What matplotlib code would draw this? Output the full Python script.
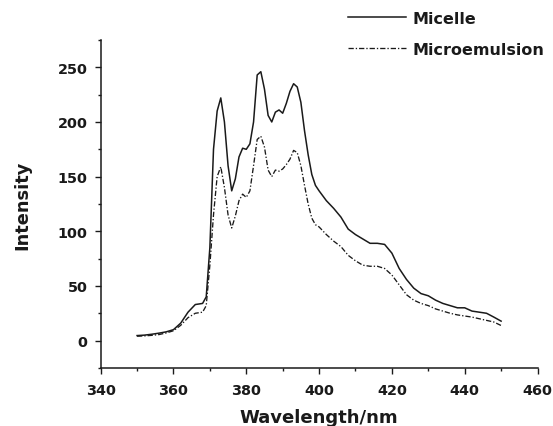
import matplotlib.pyplot as plt
from matplotlib.ticker import MultipleLocator

plt.rcParams['font.family'] = ['DejaVu Sans']
plt.rcParams['font.weight'] = 'bold'

wavelength = [350, 352, 354, 356, 358, 360, 362, 364, 366, 368, 369, 370, 371, 372, 373, 374,
              375, 376, 377, 378, 379, 380, 381, 382, 383, 384, 385, 386, 387, 388, 389, 390,
              391, 392, 393, 394, 395, 396, 397, 398, 399, 400, 402, 404, 406, 408, 410, 412,
              414, 416, 418, 420, 422, 424, 426, 428, 430, 432, 434, 436, 438, 440, 442, 444,
              446, 448, 450]

micelle = [4.6, 5, 5.8, 6.8, 8, 10, 16, 26, 33, 34, 40, 85, 175, 210, 222, 200,
           160, 137, 148, 168, 176, 175, 180, 200, 243, 246, 230, 206, 200, 209, 211, 208,
           217, 228, 235, 232, 218, 192, 170, 152, 142, 137, 128, 121, 113, 102, 97, 93,
           89, 89, 88, 80, 66, 56, 48, 43, 41, 37, 34, 32, 30, 30, 27, 26,
           25, 21.5, 17.8]

microemulsion = [4, 4.3, 4.8, 5.5, 7, 9, 14, 21, 25, 26, 32, 69, 115, 150, 159, 140,
                 115, 103, 114, 128, 134, 131, 137, 160, 184, 187, 177, 156, 150, 156, 155, 157,
                 161, 166, 174, 172, 160, 142, 125, 112, 106, 104, 97, 91, 86, 78, 73, 69,
                 68, 68, 66, 60, 51, 42, 37, 34, 32, 29, 27, 25, 23.5, 22.5, 21.5, 20,
                 18.5, 17, 13.8]

fig = plt.figure(figsize=(5.53, 4.27), dpi=100)
ax = fig.add_axes([0.182, 0.136, 0.790, 0.768])

ax.plot(wavelength, micelle, color='#1a1a1a', lw=1.1, label='Micelle')
ax.plot(wavelength, microemulsion, color='#1a1a1a', lw=0.95,
        linestyle=(0, (4, 1.5, 1, 1.5)), label='Microemulsion')

ax.set_xlim(340, 460)
ax.set_ylim(-25, 275)
ax.xaxis.set_major_locator(MultipleLocator(20))
ax.xaxis.set_minor_locator(MultipleLocator(10))
ax.yaxis.set_major_locator(MultipleLocator(50))
ax.yaxis.set_minor_locator(MultipleLocator(25))
ax.tick_params(which='major', direction='out', length=4.2, width=1, labelsize=10.4,
               colors='#1a1a1a')
ax.tick_params(axis='x', which='major', pad=6.5)
ax.tick_params(axis='y', which='major', pad=5)
ax.tick_params(which='minor', direction='out', length=2.5, width=1, colors='#1a1a1a')
for lab in ax.get_xticklabels() + ax.get_yticklabels():
    lab.set_fontweight('bold')

for s in ['top', 'right']:
    ax.spines[s].set_visible(False)
for s in ['left', 'bottom']:
    ax.spines[s].set_linewidth(1.1)
    ax.spines[s].set_color('#1a1a1a')

ax.set_xlabel('Wavelength/nm', fontsize=13, fontweight='bold', labelpad=8, color='#1a1a1a')
ax.set_ylabel('Intensity', fontsize=12.8, fontweight='bold', labelpad=19, color='#1a1a1a')

leg = ax.legend(loc='upper left', bbox_to_anchor=(348 / 553, 1 - 12 / 427),
                bbox_transform=fig.transFigure, frameon=False,
                handlelength=3.6, handletextpad=0.45, borderpad=0, borderaxespad=0,
                labelspacing=1.0, prop={'weight': 'bold', 'size': 11.5})
for t in leg.get_texts():
    t.set_color('#1a1a1a')

fig.savefig('out.png', dpi=100)
